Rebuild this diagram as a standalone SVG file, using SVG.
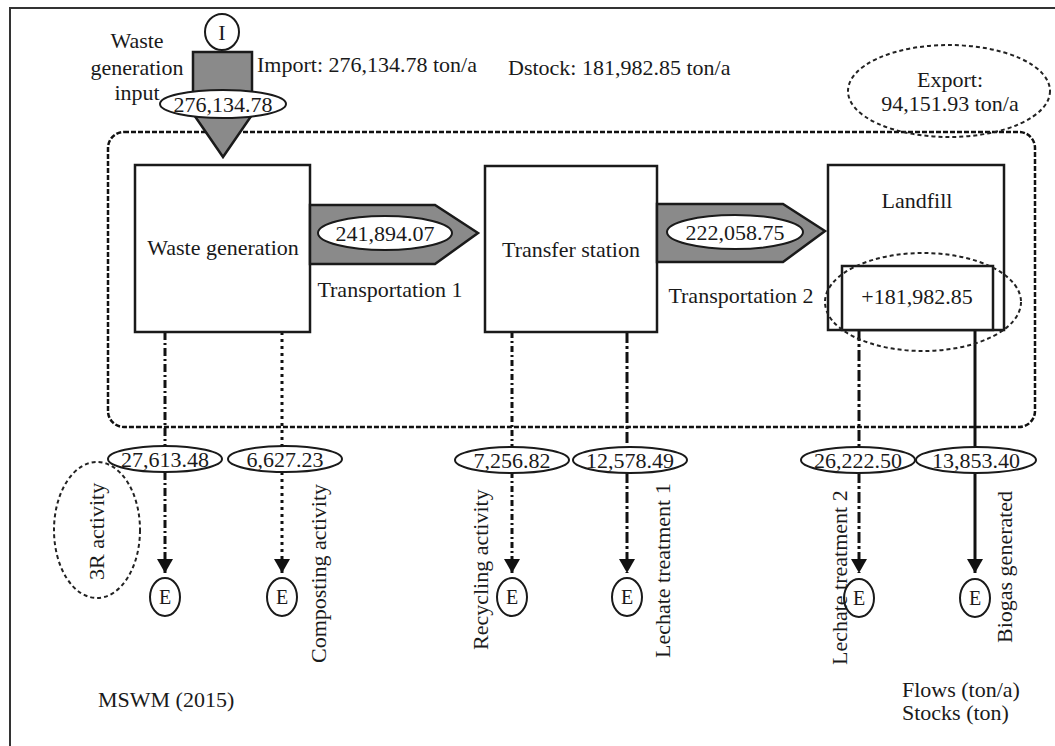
<svg xmlns="http://www.w3.org/2000/svg" width="1055" height="746" viewBox="0 0 1055 746">
<defs>
<style>
text{font-family:"Liberation Serif","Times New Roman",serif;font-size:22px;fill:#1a1a1a}
.c{text-anchor:middle}
.box{fill:#fff;stroke:#1a1a1a;stroke-width:2.5}
.val{fill:#fff;stroke:#1a1a1a;stroke-width:2}
.flow{fill:#8a8a8a;stroke:#1a1a1a;stroke-width:2.5}
.e{fill:#fff;stroke:#1a1a1a;stroke-width:2}
.ln{fill:none;stroke:#111;stroke-width:3}
.dd1{stroke-dasharray:8 3 2 3}
.dot{stroke-dasharray:3 4}
.dd2{stroke-dasharray:6 3 2 3}
.dd3{stroke-dasharray:11 3 3 3}
.sys{fill:none;stroke:#111;stroke-width:2.5;stroke-dasharray:5 2}
.note{fill:none;stroke:#222;stroke-width:2;stroke-dasharray:4 3}
</style>
<marker id="ah" viewBox="0 0 14 16" refX="14" refY="8" markerWidth="14" markerHeight="16" markerUnits="userSpaceOnUse" orient="auto">
<path d="M0,0 L14,8 L0,16 z" fill="#111"/>
</marker>
</defs>
<rect width="1055" height="746" fill="#fff"/>
<path d="M10,746 V8 H1055" fill="none" stroke="#333" stroke-width="2"/>

<g id="system-boundary">
<rect class="sys" x="108" y="132" width="927" height="295" rx="16"/>
</g>

<g id="connectors">
<line class="ln dd1" x1="165" y1="332" x2="165" y2="446"/>
<line class="ln dd1" x1="165" y1="472" x2="165" y2="573" marker-end="url(#ah)"/>
<line class="ln dot" x1="282" y1="332" x2="282" y2="446"/>
<line class="ln dot" x1="282" y1="472" x2="282" y2="573" marker-end="url(#ah)"/>
<line class="ln dd2" x1="512" y1="332" x2="512" y2="446"/>
<line class="ln dd2" x1="512" y1="472" x2="512" y2="573" marker-end="url(#ah)"/>
<line class="ln dd3" x1="627" y1="332" x2="627" y2="446"/>
<line class="ln dd3" x1="627" y1="472" x2="627" y2="573" marker-end="url(#ah)"/>
<line class="ln dd3" x1="859" y1="330" x2="859" y2="446"/>
<line class="ln dd3" x1="859" y1="472" x2="859" y2="573" marker-end="url(#ah)"/>
<line class="ln" x1="975" y1="330" x2="975" y2="446"/>
<line class="ln" x1="975" y1="472" x2="975" y2="573" marker-end="url(#ah)"/>
</g>

<g id="import">
<rect class="flow" x="193" y="52" width="59" height="55"/>
<polygon class="flow" points="192,112 254,112 223,157"/>
<ellipse class="val" cx="223" cy="104" rx="63" ry="14"/>
<text class="c" x="223" y="112">276,134.78</text>
<text class="c" x="137" y="48">Waste</text>
<text class="c" x="137" y="75">generation</text>
<text class="c" x="137" y="100">input</text>
<text x="257" y="72">Import: 276,134.78 ton/a</text>
</g>
<g id="import-source">
<ellipse class="e" cx="222" cy="32" rx="17" ry="18"/>
<text class="c" x="222" y="40">I</text>
</g>

<text id="dstock" x="508" y="75">Dstock: 181,982.85 ton/a</text>

<g id="export">
<ellipse class="note" cx="949" cy="91" rx="101" ry="46"/>
<text class="c" x="950" y="87">Export:</text>
<text class="c" x="950" y="111">94,151.93 ton/a</text>
</g>

<g id="waste-generation">
<rect class="box" x="135" y="165" width="175" height="167"/>
<text class="c" x="223" y="255">Waste generation</text>
</g>

<g id="transportation-1">
<polygon class="flow" points="310,205 435,205 478,233 435,264 310,264"/>
<ellipse class="val" cx="385" cy="233" rx="67" ry="17"/>
<text class="c" x="385" y="241">241,894.07</text>
<text class="c" x="390" y="297">Transportation 1</text>
</g>

<g id="transfer-station">
<rect class="box" x="485" y="166" width="172" height="166"/>
<text class="c" x="571" y="257">Transfer station</text>
</g>

<g id="transportation-2">
<polygon class="flow" points="657,204 783,204 825,231 783,262 657,262"/>
<ellipse class="val" cx="735" cy="232" rx="68" ry="17"/>
<text class="c" x="735" y="240">222,058.75</text>
<text class="c" x="741" y="303">Transportation 2</text>
</g>

<g id="landfill">
<rect class="box" x="828" y="165" width="176" height="165"/>
<text class="c" x="917" y="208">Landfill</text>
<rect class="box" x="842" y="266" width="151" height="64"/>
<text class="c" x="917" y="304">+181,982.85</text>
<ellipse class="note" cx="923" cy="302" rx="98" ry="49"/>
</g>

<g id="flow-3r">
<ellipse class="val" cx="165" cy="459" rx="57" ry="13"/>
<text class="c" x="165" y="467">27,613.48</text>
<ellipse class="e" cx="165" cy="597" rx="15" ry="19"/>
<text class="c" x="165" y="604" style="font-size:20px">E</text>
<ellipse class="note" cx="97" cy="530" rx="43" ry="68"/>
<text transform="translate(104,580) rotate(-90)">3R activity</text>
</g>

<g id="flow-composting">
<ellipse class="val" cx="285" cy="459" rx="57" ry="13"/>
<text class="c" x="285" y="467">6,627.23</text>
<ellipse class="e" cx="282" cy="597" rx="15" ry="19"/>
<text class="c" x="282" y="604" style="font-size:20px">E</text>
<text transform="translate(326,663) rotate(-90)">Composting activity</text>
</g>

<g id="flow-recycling">
<ellipse class="val" cx="512" cy="460" rx="57" ry="13"/>
<text class="c" x="512" y="468">7,256.82</text>
<ellipse class="e" cx="512" cy="597" rx="15" ry="19"/>
<text class="c" x="512" y="604" style="font-size:20px">E</text>
<text transform="translate(488,650) rotate(-90)">Recycling activity</text>
</g>

<g id="flow-lechate-1">
<ellipse class="val" cx="630" cy="460" rx="57" ry="13"/>
<text class="c" x="630" y="468">12,578.49</text>
<ellipse class="e" cx="627" cy="597" rx="15" ry="19"/>
<text class="c" x="627" y="604" style="font-size:20px">E</text>
<text transform="translate(670,658) rotate(-90)">Lechate treatment 1</text>
</g>

<g id="flow-lechate-2">
<ellipse class="val" cx="858" cy="460" rx="57" ry="13"/>
<text class="c" x="858" y="468">26,222.50</text>
<ellipse class="e" cx="859" cy="598" rx="15" ry="19"/>
<text class="c" x="859" y="605" style="font-size:20px">E</text>
<text transform="translate(847,665) rotate(-90)">Lechate treatment 2</text>
</g>

<g id="flow-biogas">
<ellipse class="val" cx="976" cy="460" rx="60" ry="13"/>
<text class="c" x="976" y="468">13,853.40</text>
<ellipse class="e" cx="975" cy="598" rx="15" ry="19"/>
<text class="c" x="975" y="605" style="font-size:20px">E</text>
<text transform="translate(1012,643) rotate(-90)">Biogas generated</text>
</g>

<text id="title" x="98" y="707">MSWM (2015)</text>
<g id="legend">
<text x="902" y="697">Flows (ton/a)</text>
<text x="902" y="720">Stocks (ton)</text>
</g>
</svg>
